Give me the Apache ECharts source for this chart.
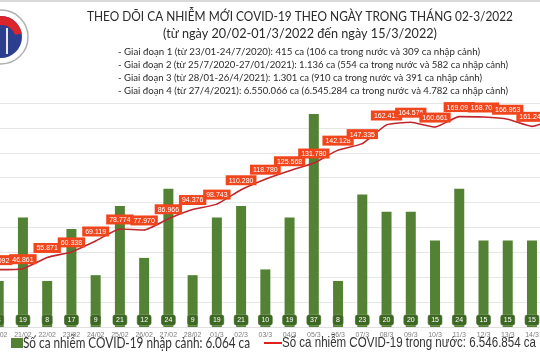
<!DOCTYPE html>
<html><head><meta charset="utf-8">
<script src="https://cdn.jsdelivr.net/npm/echarts@6/dist/echarts.min.js"></script>
<style>html,body{margin:0;padding:0;background:#fff;overflow:hidden;width:540px;height:360px;position:relative}#c{position:absolute;top:0;height:360px}</style>
</head><body><div id="c"></div>
<script>
const categories = ['20/02','21/02','22/02','23/02','24/02','25/02','26/02','27/02','28/02','01/3','02/3','03/3','04/3','05/3','06/3','07/3','08/3','09/3','10/3','11/3','12/3','13/3','14/3','15/3'];
const importedCases = [8,19,8,17,9,21,12,24,9,19,21,10,19,37,8,23,20,20,15,24,15,15,15,15];
const domesticCases = [46092,46861,55871,60338,69119,78774,77970,86966,94376,98743,110280,118780,125568,131780,142128,147335,162415,164576,160661,169090,168704,166953,161248,168208];
const importedName = 'Số ca nhiễm COVID-19 nhập cảnh: 6.064 ca';
const domesticName = 'Số ca nhiễm COVID-19 trong nước: 6.546.854 ca';
const titleLine1 = 'THEO DÕI CA NHIỄM MỚI COVID-19 THEO NGÀY TRONG THÁNG 02-3/2022';
const titleLine2 = '(từ ngày 20/02-01/3/2022 đến ngày 15/3/2022)';
const notes = [
  '- Giai đoạn 1 (từ 23/01-24/7/2020): 415 ca (106 ca trong nước và 309 ca nhập cảnh)',
  '- Giai đoạn 2 (từ 25/7/2020-27/01/2021): 1.136 ca (554 ca trong nước và 582 ca nhập cảnh)',
  '- Giai đoạn 3 (từ 28/01-26/4/2021): 1.301 ca (910 ca trong nước và 391 ca nhập cảnh)',
  '- Giai đoạn 4 (từ 27/4/2021): 6.550.066 ca (6.545.284 ca trong nước và 4.782 ca nhập cảnh)'
];

function fmt(v){ return String(v).replace(/\B(?=(\d{3})+(?!\d))/g,'.'); }

// the visible window is a crop of a wider chart
const nCat = categories.length;
const step = 24.24;
const firstCenter = -1.3;
const plotLeft = firstCenter - step/2;          // in window px (negative)
const plotRight = plotLeft + step*nCat;          // beyond 540
const OX = Math.ceil(-plotLeft) + 2;             // container offset
const W = Math.ceil(plotRight + OX) + 4;
const el = document.getElementById('c');
el.style.left = (-OX) + 'px';
el.style.width = W + 'px';

const mctx = document.createElement('canvas').getContext('2d');
function fitScale(text, font, target){ mctx.font = font; return target / mctx.measureText(text).width; }

function textEl(text, x, y, font, targetW, color, align){
  const s = fitScale(text, font, targetW);
  return {type:'text', x: x + OX, y: y, scaleX: s, scaleY: 1,
    style:{x:0, y:0, text:text, align: align||'left', verticalAlign:'middle', font:font, fill: color||'#2a2a2a'}};
}

const graphic = [
  {type:'rect', shape:{x:0, y:0, width:W, height:2}, style:{fill:'#d9d9d9'}},
  {type:'circle', shape:{cx:1+OX, cy:37, r:27}, style:{fill:'#fff', stroke:'#b0b0b0', lineWidth:1.5}},
  {type:'circle', shape:{cx:1+OX, cy:37, r:21}, style:{fill:'#2b3f8e'}},
  {type:'sector', shape:{cx:1+OX, cy:37, r:21, r0:0, startAngle:-Math.PI*0.95, endAngle:-Math.PI*0.05}, style:{fill:'#d9252b'}},
  {type:'circle', shape:{cx:1+OX, cy:40, r:15}, style:{fill:'#2b3f8e'}},
  {type:'rect', shape:{x:6+OX, y:28, width:2, height:26}, style:{fill:'#e8e8f0'}},
  textEl(titleLine1, 87, 17, '13px Lato', 426),
  textEl(titleLine2, 163, 34, '13px Lato', 274),
  // legend
  {type:'rect', shape:{x:11+OX, y:338, width:12, height:10}, style:{fill:'#548235'}},
  textEl(importedName, 23, 343, '15px Lato', 227, '#333'),
  {type:'rect', shape:{x:264+OX, y:342, width:18, height:2}, style:{fill:'#e0201b'}},
  textEl(domesticName, 282, 343, '15px "Liberation Sans"', 254, '#333')
];
const noteW = [362, 390, 364, 390];
notes.forEach((t,i)=>{
  graphic.push(textEl(t, 118, 52+i*13, '10px Lato', noteW[i]));
});

const chart = echarts.init(el, null, {renderer:'canvas', width: W, height: 360});
chart.setOption({
  animation:false,
  backgroundColor:'#fff',
  graphic: graphic,
  grid:{left: plotLeft + OX, right: W - (plotRight + OX), top:103, bottom:33, containLabel:false},
  xAxis:{type:'category', data:categories,
    axisTick:{show:false}, axisLine:{show:true, lineStyle:{color:'#e0e0e0'}},
    axisLabel:{fontSize:7, color:'#7f7f7f', margin:5, interval:0}},
  yAxis:[
    {type:'value', min:0, max:38.9, show:false, splitLine:{show:false}},
    {type:'value', min:0, max:180000, interval:20000, position:'left',
     axisLabel:{show:false}, axisLine:{show:false}, axisTick:{show:false},
     splitLine:{show:true, lineStyle:{color:'#e6e6e6', width:1}}}
  ],
  series:[
    {name:importedName, type:'bar', yAxisIndex:0, data:importedCases, barWidth:10,
     itemStyle:{color:'#548235'},
     label:{show:true, position:'insideBottom', distance:2, fontSize:7, color:'#fff',
       backgroundColor:'#3d6824', borderColor:'#7e9b6b', borderWidth:0.5, borderRadius:2, padding:[2,3,1,3]}},
    {name:domesticName, type:'line', yAxisIndex:1, data:domesticCases, symbol:'circle', symbolSize:1, showSymbol:true,
     smooth:0.15,
     lineStyle:{color:'#c0262d', width:1.6}, itemStyle:{color:'#c0262d'}, z:5,
     label:{show:true, position:'top', distance:4, fontSize:7, color:'#fff', backgroundColor:'#f0461e',
       padding:[2,3,1,3], formatter:p=>fmt(p.value)}}
  ]
});
</script></body></html>
